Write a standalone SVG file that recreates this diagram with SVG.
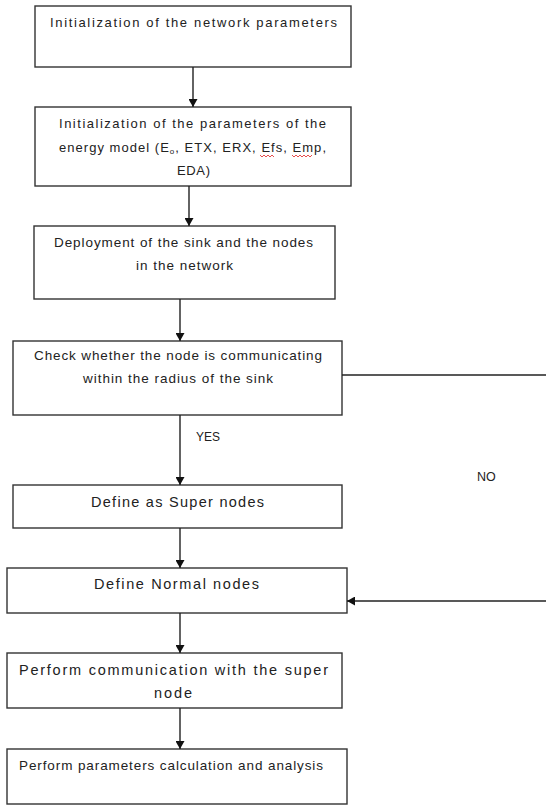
<svg xmlns="http://www.w3.org/2000/svg" width="546" height="805" viewBox="0 0 546 805">
<style>
.box{fill:#fff;stroke:#333;stroke-width:1.4}
.t{font-family:"Liberation Sans",Arial,sans-serif;fill:#222}
.c{stroke:#222;stroke-width:1.4;fill:none}
.s{stroke:#e02020;stroke-width:0.8;fill:none}
</style>
<defs>
<marker id="ah" markerUnits="userSpaceOnUse" markerWidth="8" markerHeight="9" viewBox="0 0 8 9" refX="8" refY="4.5" orient="auto">
<path d="M0,0 L8,4.5 L0,9 Z" fill="#111"/>
</marker>
</defs>
<rect width="546" height="805" fill="#fff"/>
<g id="n1">
<rect class="box" x="35" y="6" width="316" height="61"/>
<text class="t" x="50" y="27" font-size="13" textLength="287" lengthAdjust="spacing">Initialization of the network parameters</text>
</g>
<g id="n2">
<rect class="box" x="35" y="107" width="316" height="79"/>
<text class="t" x="59" y="128" font-size="13" textLength="267" lengthAdjust="spacing">Initialization of the parameters of the</text>
<text class="t" x="59" y="152" font-size="13" textLength="267" lengthAdjust="spacing">energy model (E<tspan font-size="8" dy="2">o</tspan><tspan dy="-2">, ETX, ERX, Efs, Emp,</tspan></text>
<text class="t" x="177" y="175" font-size="13" textLength="33" lengthAdjust="spacing">EDA)</text>
<path class="s" d="M260,155 l2,2 l2,-2 l2,2 l2,-2 l2,2 l2,-2 l2,2"/>
<path class="s" d="M292,155 l2,2 l2,-2 l2,2 l2,-2 l2,2 l2,-2 l2,2 l2,-2 l2,2 l2,-2"/>
</g>
<g id="n3">
<rect class="box" x="34" y="226" width="301" height="73"/>
<text class="t" x="54" y="247" font-size="13.5" textLength="259" lengthAdjust="spacing">Deployment of the sink and the nodes</text>
<text class="t" x="136" y="270" font-size="13.5" textLength="97" lengthAdjust="spacing">in the network</text>
</g>
<g id="n4">
<rect class="box" x="13" y="341" width="329" height="74"/>
<text class="t" x="34" y="360" font-size="13.5" textLength="288" lengthAdjust="spacing">Check whether the node is communicating</text>
<text class="t" x="83" y="383" font-size="13.5" textLength="190" lengthAdjust="spacing">within the radius of the sink</text>
</g>
<g id="n5">
<rect class="box" x="13" y="485" width="329" height="43"/>
<text class="t" x="91" y="507" font-size="14.5" textLength="173" lengthAdjust="spacing">Define as Super nodes</text>
</g>
<g id="n6">
<rect class="box" x="7" y="568" width="340" height="45"/>
<text class="t" x="94" y="589" font-size="14.5" textLength="165" lengthAdjust="spacing">Define Normal nodes</text>
</g>
<g id="n7">
<rect class="box" x="7" y="653" width="335" height="55"/>
<text class="t" x="19" y="675" font-size="14.5" textLength="309" lengthAdjust="spacing">Perform communication with the super</text>
<text class="t" x="154" y="698" font-size="14.5" textLength="38" lengthAdjust="spacing">node</text>
</g>
<g id="n8">
<rect class="box" x="7" y="749" width="340" height="55"/>
<text class="t" x="19" y="770" font-size="13.5" textLength="304" lengthAdjust="spacing">Perform parameters calculation and analysis</text>
</g>
<g id="connectors">
<line class="c" x1="193" y1="67" x2="193" y2="107" marker-end="url(#ah)"/>
<line class="c" x1="189" y1="186" x2="189" y2="226" marker-end="url(#ah)"/>
<line class="c" x1="180" y1="299" x2="180" y2="341" marker-end="url(#ah)"/>
<line class="c" x1="180" y1="415" x2="180" y2="485" marker-end="url(#ah)"/>
<line class="c" x1="180" y1="528" x2="180" y2="568" marker-end="url(#ah)"/>
<line class="c" x1="180" y1="613" x2="180" y2="653" marker-end="url(#ah)"/>
<line class="c" x1="180" y1="708" x2="180" y2="749" marker-end="url(#ah)"/>
<line class="c" x1="342" y1="375" x2="546" y2="375"/>
<line class="c" x1="546" y1="601" x2="347" y2="601" marker-end="url(#ah)"/>
<text class="t" x="196" y="441" font-size="12">YES</text>
<text class="t" x="477" y="481" font-size="12.5">NO</text>
</g>
</svg>
